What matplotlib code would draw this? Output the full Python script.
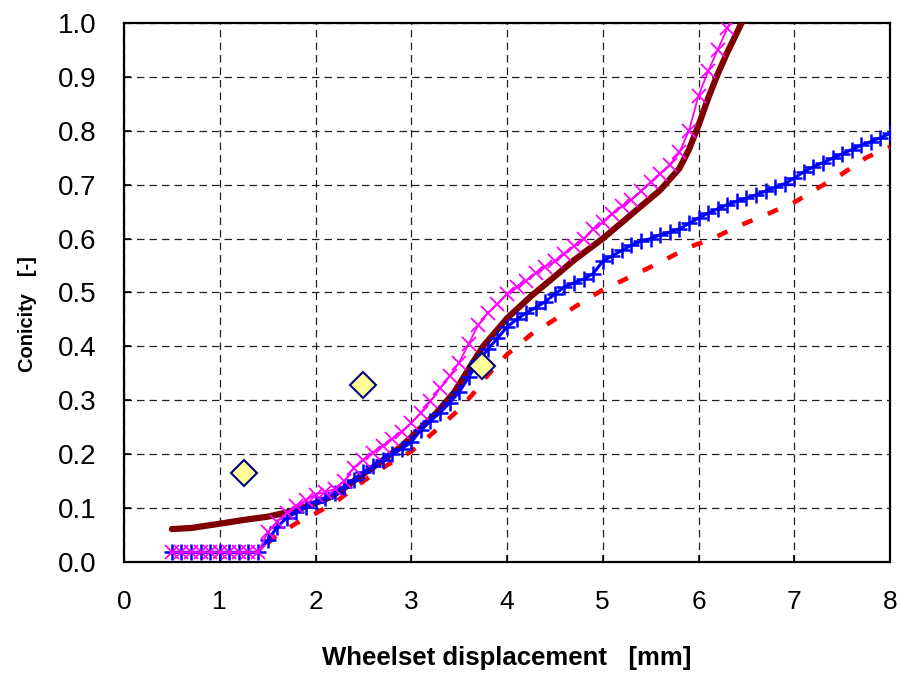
import numpy as np
import matplotlib
matplotlib.use('Agg')
import matplotlib.pyplot as plt

plt.rcParams['font.family'] = ['Liberation Sans', 'DejaVu Sans']

# measured conicity, thick dark red line
maroon_x = [0.5, 0.7, 1.0, 1.25, 1.5, 1.75, 1.95, 2.15, 2.3, 2.45, 2.65, 2.9, 3.05, 3.25,
            3.45, 3.6, 3.75, 4.0, 4.25, 4.5, 4.7, 5.0, 5.3, 5.6, 5.8, 5.9, 6.0, 6.1, 6.2,
            6.3, 6.45, 6.55]
maroon_y = [0.061, 0.063, 0.071, 0.078, 0.084, 0.094, 0.106, 0.12, 0.137, 0.157, 0.182,
            0.215, 0.24, 0.274, 0.315, 0.358, 0.40, 0.452, 0.493, 0.53, 0.56, 0.60, 0.645,
            0.69, 0.73, 0.765, 0.81, 0.86, 0.905, 0.945, 1.0, 1.04]

# magenta line with x markers
magenta_x = [0.5, 0.6, 0.7, 0.8, 0.9, 1.0, 1.1, 1.2, 1.3, 1.4, 1.5, 1.6, 1.7, 1.8, 1.9,
             2.0, 2.1, 2.2, 2.3, 2.4, 2.5, 2.6, 2.7, 2.8, 2.9, 3.0, 3.1, 3.2, 3.3, 3.4,
             3.5, 3.6, 3.7, 3.8, 3.9, 4.0, 4.1, 4.2, 4.3, 4.4, 4.5, 4.6, 4.7, 4.8, 4.9,
             5.0, 5.1, 5.2, 5.3, 5.4, 5.5, 5.6, 5.7, 5.8, 5.9, 6.0, 6.1, 6.2, 6.3, 6.4]
magenta_y = [0.018, 0.018, 0.018, 0.018, 0.018, 0.018, 0.018, 0.018, 0.018, 0.018,
             0.055, 0.075, 0.091, 0.103, 0.115, 0.125, 0.13, 0.135, 0.15, 0.175, 0.19,
             0.203, 0.216, 0.228, 0.242, 0.258, 0.277, 0.298, 0.322, 0.345, 0.37, 0.405,
             0.44, 0.462, 0.478, 0.498, 0.51, 0.522, 0.536, 0.548, 0.558, 0.572, 0.586,
             0.60, 0.617, 0.63, 0.646, 0.66, 0.672, 0.688, 0.705, 0.72, 0.737, 0.76, 0.80,
             0.865, 0.91, 0.95, 0.99, 1.03]

# blue line with + markers
blue_x = [0.5, 0.6, 0.7, 0.8, 0.9, 1.0, 1.1, 1.2, 1.3, 1.4, 1.5, 1.6, 1.7, 1.8, 1.9,
          2.0, 2.1, 2.2, 2.3, 2.4, 2.5, 2.6, 2.7, 2.8, 2.9, 3.0, 3.1, 3.2, 3.3, 3.4, 3.5,
          3.6, 3.7, 3.8, 3.9, 4.0, 4.1, 4.2, 4.3, 4.4, 4.5, 4.6, 4.7, 4.8, 4.9, 5.0, 5.1,
          5.2, 5.3, 5.4, 5.5, 5.6, 5.7, 5.8, 5.9, 6.0, 6.1, 6.2, 6.3, 6.4, 6.5, 6.6, 6.7,
          6.8, 6.9, 7.0, 7.1, 7.2, 7.3, 7.4, 7.5, 7.6, 7.7, 7.8, 7.9, 8.0]
blue_y = [0.018, 0.018, 0.018, 0.018, 0.018, 0.018, 0.018, 0.018, 0.018, 0.018,
          0.04, 0.065, 0.082, 0.092, 0.102, 0.112, 0.118, 0.128, 0.14, 0.152, 0.166,
          0.178, 0.19, 0.2, 0.21, 0.222, 0.245, 0.262, 0.277, 0.295, 0.315, 0.343, 0.372,
          0.395, 0.415, 0.436, 0.45, 0.462, 0.472, 0.483, 0.497, 0.51, 0.518, 0.525,
          0.535, 0.558, 0.568, 0.578, 0.588, 0.595, 0.60, 0.607, 0.612, 0.618, 0.628,
          0.638, 0.647, 0.655, 0.663, 0.669, 0.675, 0.681, 0.688, 0.695, 0.702, 0.712,
          0.724, 0.733, 0.741, 0.749, 0.757, 0.765, 0.773, 0.78, 0.787, 0.795]

# red dashed line
red_x = [1.5, 1.6, 1.8, 2.0, 2.2, 2.5, 2.75, 3.0, 3.25, 3.5, 3.65, 3.8, 4.0, 4.25, 4.5,
         4.75, 5.0, 5.3, 5.6, 5.9, 6.15, 6.4, 6.7, 7.0, 7.25, 7.5, 7.75, 8.0]
red_y = [0.035, 0.05, 0.072, 0.09, 0.11, 0.15, 0.18, 0.205, 0.243, 0.283, 0.313, 0.347,
         0.385, 0.422, 0.45, 0.478, 0.505, 0.53, 0.556, 0.584, 0.60, 0.622, 0.644, 0.667,
         0.694, 0.72, 0.75, 0.77]

# single measurements (diamonds)
pts_x = [1.25, 2.5, 3.74]
pts_y = [0.165, 0.328, 0.363]

x_ticks = np.arange(0, 9, 1)
y_ticks = np.round(np.arange(0, 1.01, 0.1), 1)

fig = plt.figure(figsize=(9, 6.77), dpi=100)
ax = fig.add_axes([0.1378, 0.1699, 0.8511, 0.7962])

ax.plot(red_x, red_y, color='#ff0000', lw=3.3, linestyle=(0, (2.4, 3.6)), zorder=3)
ax.plot(maroon_x, maroon_y, color='#800000', lw=4.5, solid_capstyle='round', zorder=4)
ax.plot(blue_x, blue_y, color='#0000ff', lw=2.2, marker='+', ms=11, mew=1.8, zorder=5)
ax.plot(magenta_x, magenta_y, color='#ff00ff', lw=1.3, marker='x', ms=10.5, mew=1.3, zorder=6)
ax.plot(pts_x, pts_y, linestyle='none', marker='D', ms=13, mfc='#ffff99',
        mec='#000080', mew=1.5, zorder=7)

ax.set_xlim(0, 8)
ax.set_ylim(0, 1.0)
ax.set_xticks(x_ticks)
ax.set_yticks(y_ticks)
ax.set_xticklabels([str(v) for v in x_ticks])
ax.set_yticklabels(['%.1f' % v for v in y_ticks])
ax.tick_params(direction='in', length=5, width=1.2, labelsize=20)
ax.tick_params(axis='x', pad=20, labelsize=19)
ax.tick_params(axis='y', pad=20)

ax.grid(True, color='#202020', linestyle=(0, (6, 4)), lw=0.9)
ax.set_axisbelow(True)
for s in ax.spines.values():
    s.set_linewidth(1.6)
    s.set_color('black')

ax.set_xlabel('Wheelset displacement   [mm]', fontsize=18.5, fontweight='bold')
ax.set_ylabel('Conicity   [-]', fontsize=14.5, fontweight='bold')
ax.xaxis.set_label_coords(0.5, -0.155)
ax.yaxis.set_label_coords(-0.114, 0.46)

fig.savefig('out.png', dpi=100)
